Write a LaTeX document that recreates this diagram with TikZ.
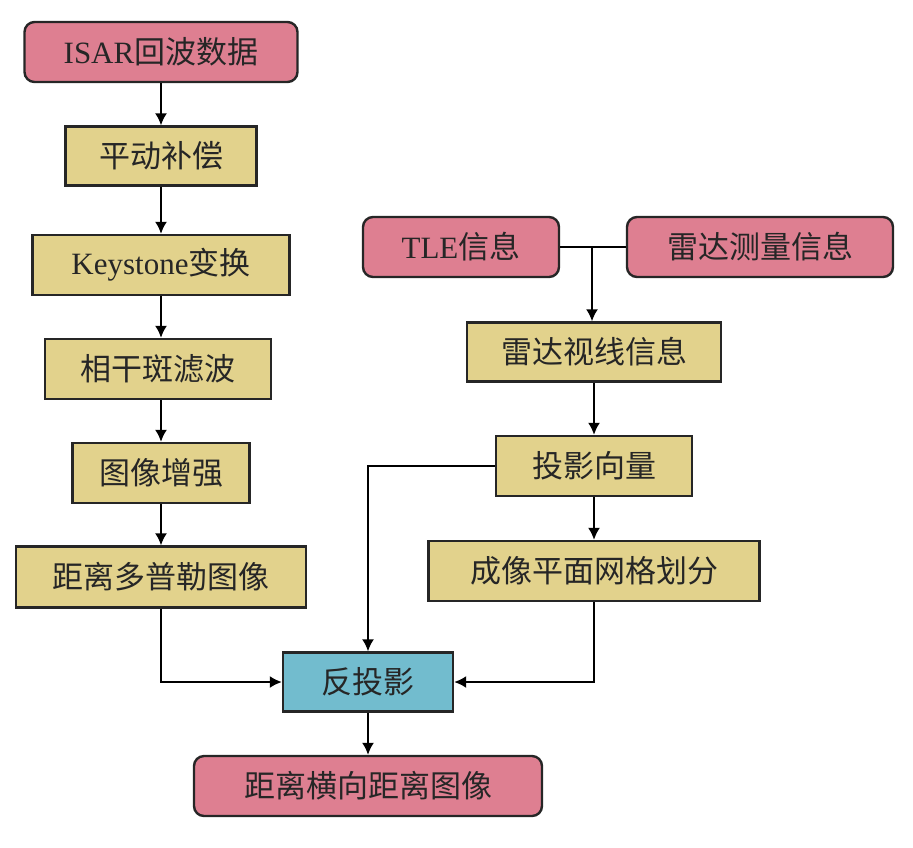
\documentclass[tikz,border=0pt]{standalone}
\usepackage{fontspec}
\setmainfont{Liberation Serif}
\newfontfamily\cjk{Noto Sans CJK SC}
\usetikzlibrary{arrows.meta}

\definecolor{pinkbox}{RGB}{222,127,145}
\definecolor{tanbox}{RGB}{226,210,140}
\definecolor{bluebox}{RGB}{114,188,206}

\tikzset{
	base/.style={draw=black!85, line width=1.2pt, inner sep=0pt, text=black!85,
		font=\fontsize{15.5}{18}\selectfont},
	ends/.style={base, fill=pinkbox, rounded corners=5pt},
	proc/.style={base, fill=tanbox},
	core/.style={base, fill=bluebox},
	flow/.style={line width=0.9pt, -{Latex[length=6pt,width=6pt]}}
}

\begin{document}
\begin{tikzpicture}[x=0.5pt, y=-0.5pt]
	\useasboundingbox (0, 0) rectangle (913, 847);

	% left column
	\node[ends, minimum width=136.5pt, minimum height=30pt] at (161, 52) (isar) {ISAR{\cjk 回波数据}};
	\node[proc, minimum width=95.5pt, minimum height=29.5pt] at (161, 156) (pdbc) {\cjk 平动补偿};
	\node[proc, minimum width=128.5pt, minimum height=30pt] at (161, 265) (key) {Keystone{\cjk 变换}};
	\node[proc, minimum width=113pt, minimum height=30pt] at (158, 369) (xgb) {\cjk 相干斑滤波};
	\node[proc, minimum width=88.5pt, minimum height=30pt] at (161, 473) (zq) {\cjk 图像增强};
	\node[proc, minimum width=145pt, minimum height=30.5pt] at (161, 577) (rd) {\cjk 距离多普勒图像};

	% right column
	\node[ends, minimum width=98pt, minimum height=30pt] at (461, 247) (tle) {TLE{\cjk 信息}};
	\node[ends, minimum width=133pt, minimum height=30pt] at (760, 247) (cl) {\cjk 雷达测量信息};
	\node[proc, minimum width=127pt, minimum height=29.5pt] at (594, 352) (sx) {\cjk 雷达视线信息};
	\node[proc, minimum width=98pt, minimum height=30pt] at (594, 466) (ty) {\cjk 投影向量};
	\node[proc, minimum width=165.5pt, minimum height=30pt] at (594, 571) (wg) {\cjk 成像平面网格划分};

	% bottom
	\node[core, minimum width=85pt, minimum height=29.5pt] at (368, 682) (fty) {\cjk 反投影};
	\node[ends, minimum width=174pt, minimum height=30pt] at (368, 786) (out) {\cjk 距离横向距离图像};

	\coordinate (j) at (592, 246);

	\draw[flow] (isar) -- (pdbc);
	\draw[flow] (pdbc) -- (key);
	\draw[flow] (key.south) -- (key.south |- xgb.north);
	\draw[flow] (xgb.south -| zq.north) -- (zq);
	\draw[flow] (zq) -- (rd);

	\draw[line width=0.9pt] (tle.east) -- (cl.west);
	\draw[flow] (j) -- (j |- sx.north);
	\draw[flow] (sx) -- (ty);
	\draw[flow] (ty) -- (wg);

	\draw[flow] (ty.west) -| (fty.north);
	\draw[flow] (rd.south) |- (fty.west);
	\draw[flow] (wg.south) |- (fty.east);
	\draw[flow] (fty) -- (out);
\end{tikzpicture}
\end{document}
